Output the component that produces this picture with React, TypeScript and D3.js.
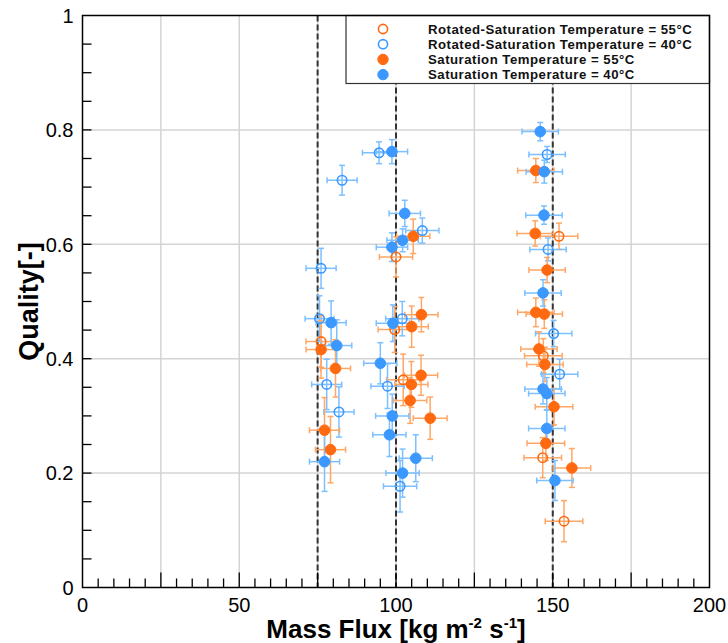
import React from "react";
import * as d3 from "d3";

if (typeof document !== "undefined") document.body.style.margin = "0";

// ---- data (mass flux [kg m-2 s-1], quality [-], errors) ----
const rs55Flux = [76.1, 100.0, 99.6, 102.3, 152.0, 147.0, 146.8, 153.6];
const rs55Quality = [0.43, 0.578, 0.451, 0.363, 0.614, 0.405, 0.227, 0.116];
const rs55FluxErr = [4.8, 5.3, 5.3, 5.3, 6, 6, 6, 6];
const rs55QualityErr = [0.045, 0.035, 0.04, 0.045, 0.023, 0.03, 0.035, 0.036];

const rs40Flux = [76.1, 75.6, 77.9, 81.8, 82.8, 94.6, 108.4, 102.0, 97.3, 101.3, 148.2, 148.5, 150.3, 152.2];
const rs40Quality = [0.558, 0.47, 0.355, 0.307, 0.712, 0.76, 0.624, 0.47, 0.352, 0.177, 0.757, 0.591, 0.444, 0.373];
const rs40FluxErr = [4.8, 4.6, 4.8, 4.8, 4.8, 5.3, 5.3, 5.3, 5.3, 5.3, 5.8, 5.8, 5.8, 5.8];
const rs40QualityErr = [0.035, 0.04, 0.044, 0.044, 0.026, 0.019, 0.022, 0.03, 0.039, 0.045, 0.014, 0.02, 0.023, 0.026];

const s55Flux = [76.1, 80.7, 77.2, 79.1, 105.5, 108.1, 105.0, 108.0, 104.9, 104.5, 110.9, 144.6, 144.4, 148.2, 144.6, 147.3, 145.6, 147.5, 150.4, 147.8, 156.1];
const s55Quality = [0.416, 0.383, 0.275, 0.241, 0.614, 0.477, 0.456, 0.371, 0.355, 0.327, 0.296, 0.729, 0.619, 0.555, 0.481, 0.478, 0.417, 0.39, 0.316, 0.252, 0.209];
const s55FluxErr = [4.8, 4.8, 4.8, 4.8, 5.3, 5.3, 5.3, 5.3, 5.3, 5.3, 5.4, 5.8, 5.8, 5.8, 5.8, 5.8, 5.8, 5.8, 6, 6, 6];
const s55QualityErr = [0.05, 0.05, 0.057, 0.058, 0.03, 0.03, 0.036, 0.035, 0.04, 0.04, 0.037, 0.021, 0.022, 0.022, 0.025, 0.025, 0.03, 0.03, 0.032, 0.03, 0.034];

const s40Flux = [79.3, 81.1, 77.2, 98.7, 102.8, 102.1, 98.7, 99.0, 95.0, 98.8, 97.9, 106.3, 102.1, 146.0, 147.3, 147.2, 146.9, 146.9, 148.1, 148.1, 150.7];
const s40Quality = [0.463, 0.423, 0.22, 0.762, 0.654, 0.607, 0.595, 0.462, 0.392, 0.3, 0.267, 0.226, 0.2, 0.797, 0.727, 0.651, 0.515, 0.347, 0.339, 0.278, 0.187];
const s40FluxErr = [4.8, 4.8, 4.8, 5, 5, 5, 5, 5.3, 5.3, 5.3, 5.3, 5.3, 5.3, 5.8, 5.8, 5.8, 5.8, 5.8, 5.8, 5.8, 5.8];
const s40QualityErr = [0.038, 0.045, 0.052, 0.021, 0.023, 0.02, 0.025, 0.032, 0.036, 0.038, 0.038, 0.041, 0.042, 0.016, 0.02, 0.016, 0.023, 0.026, 0.028, 0.032, 0.035];

const legendLabels = [
  "Rotated-Saturation Temperature = 55°C",
  "Rotated-Saturation Temperature = 40°C",
  "Saturation Temperature = 55°C",
  "Saturation Temperature = 40°C",
];
const xTickLabels = [0, 50, 100, 150, 200];
const yTickLabels = [0, 0.2, 0.4, 0.6, 0.8, 1];
const referenceFlux = [75, 100, 150];

const ORANGE = "#FF6A10";
const BLUE = "#3A98FF";
const ORANGE_ERR = "#FFA766";
const BLUE_ERR = "#7DC0FF";

type Series = { flux: number[]; q: number[]; fe: number[]; qe: number[]; color: string; errColor: string; open: boolean };
const series: Series[] = [
  { flux: rs55Flux, q: rs55Quality, fe: rs55FluxErr, qe: rs55QualityErr, color: ORANGE, errColor: ORANGE_ERR, open: true },
  { flux: rs40Flux, q: rs40Quality, fe: rs40FluxErr, qe: rs40QualityErr, color: BLUE, errColor: BLUE_ERR, open: true },
  { flux: s55Flux, q: s55Quality, fe: s55FluxErr, qe: s55QualityErr, color: ORANGE, errColor: ORANGE_ERR, open: false },
  { flux: s40Flux, q: s40Quality, fe: s40FluxErr, qe: s40QualityErr, color: BLUE, errColor: BLUE_ERR, open: false },
];

const W = 728, H = 643;
const L = 82.5, R = 709.5, T = 15.5, B = 587.5;
const FONT = "'Liberation Sans', Arial, Helvetica, sans-serif";

export default function App() {
  const x = d3.scaleLinear().domain([0, 200]).range([L, R]);
  const y = d3.scaleLinear().domain([0, 1]).range([B, T]);
  const gridX = d3.range(25, 200, 25);
  const gridY = d3.range(0.2, 0.95, 0.2);
  const xMinor = d3.range(5, 200, 5);
  const yMinor = d3.range(0.05, 0.999, 0.05);
  const cap = 3;
  const r = 5.3;

  const legX = 346, legY = T, legW = R - 346, legH = 68;

  return (
    <svg width={W} height={H} style={{ display: "block", fontFamily: FONT }}>
      <rect x={0} y={0} width={W} height={H} fill="#fff" />
      {/* grid */}
      {gridX.map((v) => (
        <line key={"gx" + v} x1={x(v)} x2={x(v)} y1={T} y2={B} stroke="#d4d4d4" strokeWidth={1.5} />
      ))}
      {gridY.map((v) => (
        <line key={"gy" + v} x1={L} x2={R} y1={y(v)} y2={y(v)} stroke="#d4d4d4" strokeWidth={1.5} />
      ))}
      {/* reference dashed lines */}
      {referenceFlux.map((v) => (
        <line key={"rf" + v} x1={x(v)} x2={x(v)} y1={T} y2={B} stroke="#333" strokeWidth={2} strokeDasharray="6,3" />
      ))}
      {/* error bars */}
      {series.map((s, si) => (
        <g key={"e" + si} stroke={s.errColor} strokeWidth={1.5} fill="none">
          {s.flux.map((f, i) => {
            const cx = x(f), cy = y(s.q[i]);
            const x0 = x(f - s.fe[i]), x1 = x(f + s.fe[i]);
            const y0 = y(s.q[i] - s.qe[i]), y1 = y(s.q[i] + s.qe[i]);
            return (
              <g key={i}>
                <line x1={x0} x2={x1} y1={cy} y2={cy} />
                <line x1={x0} x2={x0} y1={cy - cap} y2={cy + cap} />
                <line x1={x1} x2={x1} y1={cy - cap} y2={cy + cap} />
                <line x1={cx} x2={cx} y1={y0} y2={y1} />
                <line x1={cx - cap} x2={cx + cap} y1={y0} y2={y0} />
                <line x1={cx - cap} x2={cx + cap} y1={y1} y2={y1} />
              </g>
            );
          })}
        </g>
      ))}
      {/* markers */}
      {series.map((s, si) => (
        <g key={"m" + si}>
          {s.flux.map((f, i) => (
            <circle
              key={i}
              cx={x(f)}
              cy={y(s.q[i])}
              r={s.open ? r - 0.6 : r}
              fill={s.open ? "none" : s.color}
              stroke={s.color}
              strokeWidth={s.open ? 1.6 : 1}
            />
          ))}
        </g>
      ))}
      {/* ticks */}
      {xMinor.map((v) => {
        const major = v % 25 === 0;
        return <line key={"xt" + v} x1={x(v)} x2={x(v)} y1={B} y2={B - (major ? 15 : 9)} stroke="#000" strokeWidth={1.3} />;
      })}
      {yMinor.map((v) => (
        <line key={"yt" + v} x1={L} x2={L + 9} y1={y(v)} y2={y(v)} stroke="#000" strokeWidth={1.3} />
      ))}
      {/* legend */}
      <rect x={legX} y={legY} width={legW} height={legH} fill="#fff" stroke="#333" strokeWidth={1.2} />
      {legendLabels.map((lab, i) => {
        const s = series[i];
        const cy = legY + 13.5 + i * 15.2;
        return (
          <g key={"lg" + i}>
            <circle cx={383} cy={cy} r={s.open ? 4.6 : 5.2} fill={s.open ? "none" : s.color} stroke={s.color} strokeWidth={s.open ? 1.6 : 1} />
            <text x={428} y={cy} dy="0.36em" fontSize={13.2} letterSpacing={0.5} fontWeight="bold" fill="#111">
              {lab}
            </text>
          </g>
        );
      })}
      {/* frame */}
      <rect x={L} y={T} width={R - L} height={B - T} fill="none" stroke="#000" strokeWidth={1.5} />
      {/* tick labels */}
      {xTickLabels.map((v) => (
        <text key={"xl" + v} x={x(v)} y={B + 24} textAnchor="middle" fontSize={20} fill="#000">
          {v}
        </text>
      ))}
      {yTickLabels.map((v) => (
        <text key={"yl" + v} x={L - 9} y={y(v)} dy="0.36em" textAnchor="end" fontSize={20} fill="#000">
          {d3.format("~g")(v)}
        </text>
      ))}
      {/* axis titles */}
      <text x={(L + R) / 2} y={638} textAnchor="middle" fontSize={26} fontWeight="bold" fill="#000">
        Mass Flux [kg m
        <tspan fontSize={15} dy={-10}>-2</tspan>
        <tspan dy={10}> s</tspan>
        <tspan fontSize={15} dy={-10}>-1</tspan>
        <tspan dy={10}>]</tspan>
      </text>
      <text
        transform={`translate(38, ${(T + B) / 2}) rotate(-90)`}
        textAnchor="middle"
        fontSize={27}
        fontWeight="bold"
        fill="#000"
      >
        Quality[-]
      </text>
    </svg>
  );
}
